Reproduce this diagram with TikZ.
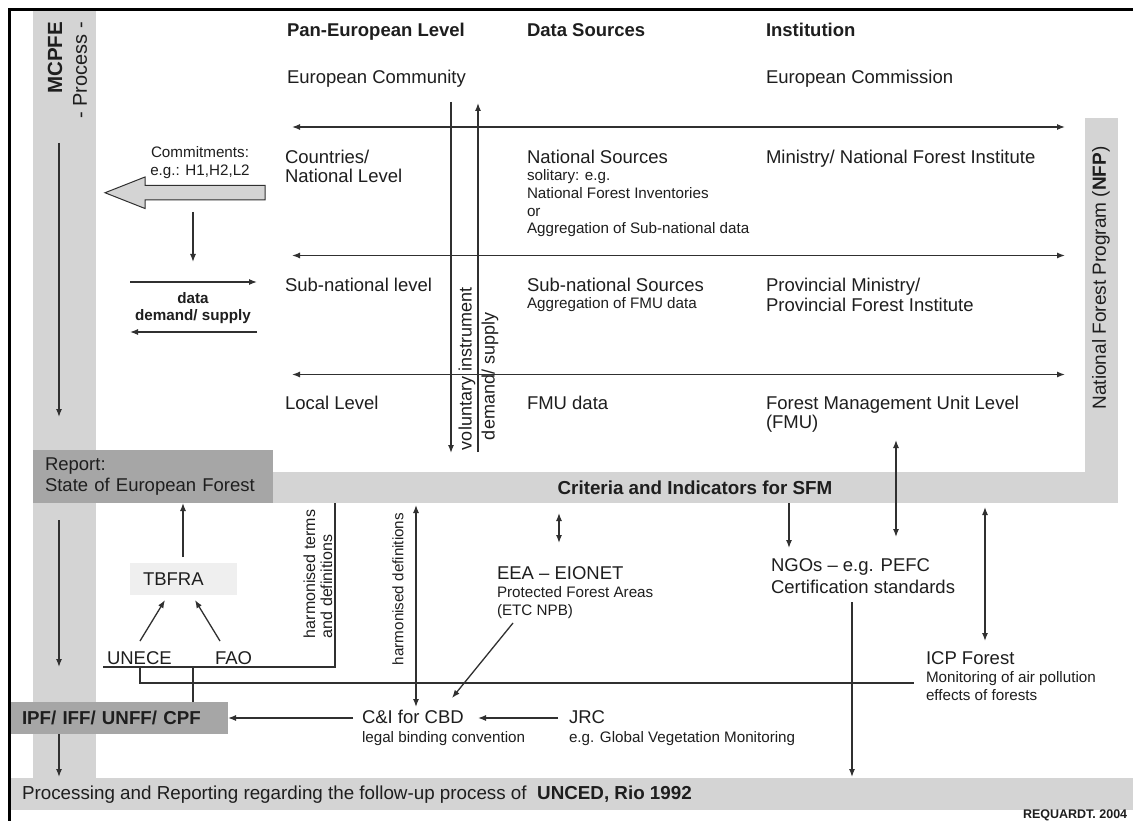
\documentclass[tikz,border=0pt]{standalone}
\usepackage{fontspec}
\setmainfont{Liberation Sans}
\usetikzlibrary{arrows.meta}
\definecolor{band}{HTML}{D4D4D4}
\definecolor{dbox}{HTML}{A6A6A6}
\definecolor{lbox}{HTML}{EFEFEF}
\definecolor{ink}{HTML}{1E1E1E}
\definecolor{lncol}{HTML}{303030}
\newcommand{\myL}{\fontsize{18.5}{21}\selectfont}
\newcommand{\myS}{\fontsize{15.2}{17.8}\selectfont}
\begin{document}
\begin{tikzpicture}[x=1pt,y=-1pt,
  every node/.style={inner sep=0pt, outer sep=0pt, text=ink},
  lbl/.style={anchor=north west, align=left},
  bl/.style={anchor=base west},
  ar/.style={draw=lncol, line width=1.3pt, -{Latex[length=8pt,width=6pt]}},
  dar/.style={draw=lncol, line width=1.3pt, {Latex[length=8pt,width=6pt]}-{Latex[length=8pt,width=6pt]}},
  plainline/.style={draw=lncol, line width=1.3pt},
  vlbl/.style={rotate=90, anchor=west, align=left},
]
\useasboundingbox (0,0) rectangle (1133,821);
\fill[white] (0,0) rectangle (1133,821);
% bands
\fill[band] (33,11) rectangle (96,778);
\fill[band] (10,778) rectangle (1133,810);
\fill[band] (1085,118) rectangle (1118,503);
\node[fill=band, minimum width=846, minimum height=31, anchor=north west, font=\fontsize{18.8}{21}\selectfont\bfseries] (crit) at (272,472) {Criteria and Indicators for SFM};
% boxes
\node[fill=dbox, anchor=north west, minimum width=240, minimum height=53, inner xsep=12, text width=216, align=left, font=\myL] (report) at (33,450) {Report:\\State of European Forest};
\node[fill=dbox, anchor=north west, minimum width=218, minimum height=32, inner xsep=12, text width=194, align=left, font=\fontsize{18.7}{21}\selectfont\bfseries] (ipf) at (10,702) {IPF/ IFF/ UNFF/ CPF};
\node[fill=lbox, anchor=north west, minimum width=107, minimum height=32, inner xsep=13, text width=81, align=left, font=\myL] (tbfra) at (130,563) {TBFRA};
% frame
\draw[black, line width=3pt] (9.5,821) -- (9.5,9.5) -- (1133,9.5);
% MCPFE
\node[rotate=90, anchor=east, font=\fontsize{20.5}{22}\selectfont\bfseries] (mcpfe) at (55,22) {MCPFE};
\node[rotate=90, anchor=east, font=\fontsize{20}{22}\selectfont] (process) at (80,22) {- Process -};
\coordinate (m1) at (59,143); \coordinate (m2) at (59,417);
\coordinate (m3) at (59,520); \coordinate (m4) at (59,667);
\coordinate (m5) at (59,777);
\draw[ar] (m1) -- (m2);
\draw[ar] (m3) -- (m4);
\draw[ar] (ipf.south -| m5) -- (m5);
% NFP
\node[rotate=90, font=\fontsize{19}{21}\selectfont] (nfp) at (1101,278) {National Forest Program (\textbf{NFP})};
% headers
\node[bl, font=\myL\bfseries] (h1) at (287,36.6) {Pan-European Level};
\node[bl, font=\myL\bfseries] (h2) at (527,36.6) {Data Sources};
\node[bl, font=\myL\bfseries] (h3) at (766,36.6) {Institution};
\node[bl, font=\myL] (ec) at (287,83.6) {European Community};
\node[bl, font=\myL] (ecom) at (766,83.6) {European Commission};
% rows
\node[lbl, font=\fontsize{18.5}{19.5}\selectfont] (cn) at (285,150) {Countries/\\National Level};
\node[bl, font=\myL] (ns) at (527,163.6) {National Sources};
\node[lbl, font=\myS] (nsd) at (527,169.5) {solitary: e.g.\\National Forest Inventories\\or\\Aggregation of Sub-national data};
\node[bl, font=\myL] (min) at (766,163.6) {Ministry/ National Forest Institute};
\node[bl, font=\myL] (sn) at (285,291.6) {Sub-national level};
\node[bl, font=\myL] (sns) at (527,291.6) {Sub-national Sources};
\node[lbl, font=\myS] (snsd) at (527,297.5) {Aggregation of FMU data};
\node[lbl, font=\fontsize{18.5}{20}\selectfont] (prov) at (766,278) {Provincial Ministry/\\Provincial Forest Institute};
\node[bl, font=\myL] (ll) at (285,409.6) {Local Level};
\node[bl, font=\myL] (fmu) at (527,409.6) {FMU data};
\node[lbl, font=\fontsize{18.5}{19.5}\selectfont] (fmul) at (766,396) {Forest Management Unit Level\\(FMU)};
% horizontal double arrows
\coordinate (r1l) at (292,127); \coordinate (r1r) at (1065,127);
\coordinate (r2l) at (292,255.5); \coordinate (r2r) at (1065,255.5);
\coordinate (r3l) at (292,374.5); \coordinate (r3r) at (1065,374.5);
\draw[dar] (r1l) -- (r1r);
\draw[dar] (r2l) -- (r2r);
\draw[dar] (r3l) -- (r3r);
% vertical instrument arrows
\coordinate (vd1) at (451,102); \coordinate (vd2) at (451,453);
\coordinate (vu1) at (478,452); \coordinate (vu2) at (478,103);
\draw[ar] (vd1) -- (vd2);
\draw[ar] (vu1) -- (vu2);
\node[vlbl, font=\fontsize{18}{20}\selectfont] (vol) at (467,450) {voluntary instrument};
\node[vlbl, font=\fontsize{18}{20}\selectfont] (ds) at (490,440) {demand/ supply};
% commitments
\node[anchor=north, align=center, font=\fontsize{15.2}{18}\selectfont] (commit) at (200,146) {Commitments:\\e.g.: H1,H2,L2};
\draw[draw=lncol, fill=band, line width=1pt] (265,185.5) -- (145,185.5) -- (145,177) -- (105,192.75) -- (145,208.5) -- (145,200) -- (265,200) -- cycle;
\coordinate (cd1) at (193,212); \coordinate (cd2) at (193,262);
\draw[ar] (cd1) -- (cd2);
\coordinate (da1) at (130,282); \coordinate (da2) at (257,282);
\coordinate (db1) at (257,332); \coordinate (db2) at (130,332);
\draw[ar] (da1) -- (da2);
\draw[ar] (db1) -- (db2);
\node[anchor=north, align=center, font=\fontsize{15.2}{17}\selectfont\bfseries] (data) at (193,292) {data\\demand/ supply};
% lower left
\coordinate (tb1) at (183,557);
\draw[ar] (tb1) -- (report.south -| tb1);
\node[bl, font=\myL] (unece) at (107,664.6) {UNECE};
\node[bl, font=\myL] (fao) at (215,664.6) {FAO};
\coordinate (u1) at (140,641); \coordinate (u2) at (165,600);
\coordinate (f1) at (220,641); \coordinate (f2) at (195,600);
\draw[ar] (u1) -- (u2);
\draw[ar] (f1) -- (f2);
\coordinate (ht0) at (335,503); \coordinate (ht1) at (335,667); \coordinate (ht2) at (103,667);
\draw[plainline] (ht0) -- (ht1) -- (ht2);
\node[vlbl, font=\fontsize{16}{17}\selectfont] (harm) at (318,638) {harmonised terms\\and definitions};
\coordinate (un1) at (140,667); \coordinate (un2) at (140,683); \coordinate (un3) at (914,683);
\draw[plainline] (un1) -- (un2) -- (un3);
\coordinate (fa1) at (193,667);
\draw[plainline] (fa1) -- (ipf.north -| fa1);
% C&I
\node[bl, font=\myL] (ci) at (362,723.6) {C\&I for CBD};
\node[lbl, font=\myS] (cid) at (362,731.5) {legal binding convention};
\node[bl, font=\myL] (jrc) at (569,723.6) {JRC};
\node[lbl, font=\myS] (jrcd) at (569,731.5) {e.g. Global Vegetation Monitoring};
\coordinate (ci1) at (353,718);
\draw[ar] (ci1) -- (ipf.east |- ci1);
\coordinate (j1) at (558,718); \coordinate (j2) at (478,718);
\draw[ar] (j1) -- (j2);
\coordinate (hd1) at (416,505); \coordinate (hd2) at (416,707);
\draw[dar] (hd1) -- (hd2);
\node[vlbl, font=\myS] (hdef) at (398,665) {harmonised definitions};
% EEA
\node[bl, font=\myL] (eea) at (497,579.6) {EEA -- EIONET};
\node[lbl, font=\myS] (eead) at (497,586.5) {Protected Forest Areas\\(ETC NPB)};
\coordinate (e1) at (559,513); \coordinate (e2) at (559,543);
\draw[dar] (e1) -- (e2);
\coordinate (e3) at (513,623); \coordinate (e4) at (452,698);
\draw[ar] (e3) -- (e4);
% NGOs
\node[lbl, font=\fontsize{18.5}{22}\selectfont] (ngo) at (771,559) {NGOs -- e.g. PEFC\\Certification standards};
\coordinate (n1) at (789,548);
\draw[ar] (crit.south -| n1) -- (n1);
\coordinate (fm1) at (896,440); \coordinate (fm2) at (896,537);
\draw[dar] (fm1) -- (fm2);
\coordinate (ng1) at (852,602); \coordinate (ng2) at (852,777);
\draw[ar] (ng1) -- (ng2);
\coordinate (ic1) at (985,507); \coordinate (ic2) at (985,641);
\draw[dar] (ic1) -- (ic2);
\node[bl, font=\myL] (icp) at (926,664.6) {ICP Forest};
\node[lbl, font=\myS] (icpd) at (926,671.5) {Monitoring of air pollution\\effects of forests};
% bottom
\node[anchor=west, font=\fontsize{18.8}{21}\selectfont] (proc) at (22,795) {Processing and Reporting regarding the follow-up process of\ \ \textbf{UNCED, Rio 1992}};
\node[anchor=west, font=\fontsize{12.5}{14}\selectfont\bfseries] (req) at (1023,815) {REQUARDT. 2004};
\end{tikzpicture}
\end{document}
